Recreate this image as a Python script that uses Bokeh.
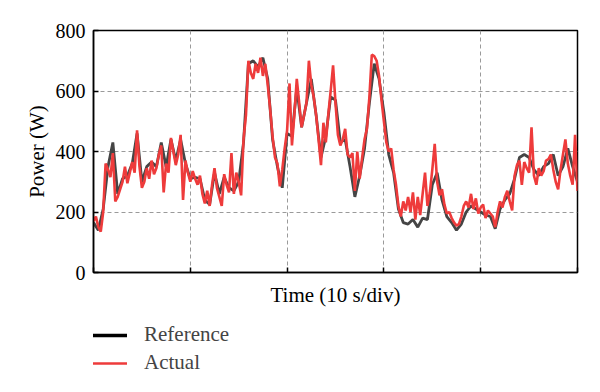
from bokeh.plotting import figure
from bokeh.models import Range1d, Legend, LegendItem, FixedTicker
from bokeh.layouts import column
from bokeh.embed import file_html
from bokeh.resources import INLINE

# Actual power, sampled every 0.25 s (0 .. 50 s)
actual_w = [
    170, 185, 150, 135, 200, 360, 340, 315, 395, 235, 250, 275, 300, 350, 295, 330,
    365, 330, 470, 350, 280, 300, 345, 310, 370, 325, 345, 390, 420, 265, 360, 330,
    445, 400, 355, 390, 455, 240, 370, 330, 300, 335, 310, 290, 320, 260, 228, 270,
    220, 290, 345, 280, 250, 220, 325, 290, 265, 395, 260, 330, 300, 255, 440, 520,
    700, 660, 640, 690, 660, 710, 650, 690, 620, 540, 450, 380, 360, 285, 340, 410,
    470, 625, 420, 520, 640, 560, 480, 520, 560, 700, 620, 580, 520, 440, 355, 495,
    430, 520, 600, 685, 560, 455, 420, 440, 475, 390, 380, 395, 270, 400, 310, 380,
    440, 475, 580, 720, 715, 700, 650, 570, 500, 430, 400, 410, 340, 290, 220, 185,
    235, 205, 250, 200, 265, 175, 250, 190, 260, 330, 220, 265, 340, 425, 300, 255,
    275, 225, 195, 200, 180, 165, 155, 160, 185, 220, 235, 215, 260, 210, 245, 195,
    215, 225, 180, 205, 195, 185, 150, 200, 235, 215, 250, 270, 235, 205, 320, 355,
    370, 290, 365, 345, 330, 480, 320, 290, 345, 320, 335, 370, 375, 390, 340, 300,
    275, 340, 390, 440, 360, 320, 290, 455, 270,
]
actual_t = [i * 0.25 for i in range(len(actual_w))]

# Reference power, sampled every 0.5 s (0 .. 50 s)
reference_w = [
    165, 140, 210, 350, 430, 260, 310, 320, 360, 460, 300, 350, 365, 350, 430, 350,
    440, 370, 440, 360, 310, 315, 310, 240, 225, 330, 260, 315, 280, 270, 300, 430,
    690, 700, 680, 710, 640, 440, 350, 280, 460, 450, 610, 480, 560, 640, 520, 380,
    450, 580, 570, 430, 440, 350, 250, 320, 410, 560, 690, 640, 530, 390, 330, 210,
    165, 160, 175, 150, 180, 175, 290, 330, 240, 185, 165, 140, 160, 200, 220, 210,
    200, 190, 185, 145, 210, 240, 260, 310, 380, 390, 380, 340, 320, 350, 360, 390,
    320, 350, 410, 350, 300,
]
reference_t = [i * 0.5 for i in range(len(reference_w))]

y_ticks = [0, 200, 400, 600, 800]
x_ticks = [0, 10, 20, 30, 40, 50]
series_names = ["Reference", "Actual"]

FONT = "Liberation Serif"
REF_COLOR = "#454545"
ACT_COLOR = "#EE3B3B"

p = figure(width=600, height=314, output_backend="svg", toolbar_location=None,
           x_range=Range1d(0, 50), y_range=Range1d(0, 800),
           min_border_left=93, min_border_right=23, min_border_top=30,
           min_border_bottom=42)

p.outline_line_color = "black"
p.outline_line_width = 1.5
p.background_fill_color = "white"
p.border_fill_color = "white"

p.line(reference_t, reference_w, line_color=REF_COLOR, line_width=2.8)
p.line(actual_t, actual_w, line_color=ACT_COLOR, line_width=2.6)

for ax in (p.xaxis[0], p.yaxis[0]):
    ax.axis_line_color = "black"
    ax.axis_line_width = 1.5
    ax.major_tick_in = 5
    ax.major_tick_out = 0
    ax.minor_tick_in = 0
    ax.minor_tick_out = 0
    ax.major_tick_line_color = "black"
    ax.major_tick_line_width = 1.5
    ax.axis_label_text_font = FONT
    ax.axis_label_text_font_style = "normal"
    ax.axis_label_text_font_size = "21px"
    ax.axis_label_text_color = "black"
    ax.major_label_text_font = FONT
    ax.major_label_text_font_size = "20px"
    ax.major_label_text_color = "black"

p.xaxis.ticker = FixedTicker(ticks=x_ticks)
p.yaxis.ticker = FixedTicker(ticks=y_ticks)
p.xaxis.major_label_text_font_size = "0px"
p.xaxis.axis_label = "Time (10 s/div)"
p.yaxis.axis_label = "Power (W)"
p.xaxis.axis_label_standoff = 10
p.yaxis.axis_label_standoff = 4
p.yaxis.major_label_standoff = 8

for g in (p.xgrid[0], p.ygrid[0]):
    g.grid_line_color = "#9a9a9a"
    g.grid_line_dash = "4 3"
    g.grid_line_width = 1

# Legend panel below the chart (series drawn out of view, only the legend shows)
lg = figure(width=600, height=78, output_backend="svg", toolbar_location=None,
            x_range=Range1d(100, 101), y_range=Range1d(0, 1),
            min_border_left=0, min_border_right=0, min_border_top=0,
            min_border_bottom=0)
lg.axis.visible = False
lg.grid.visible = False
lg.outline_line_color = None
lg_ref = lg.line(reference_t, reference_w, line_color="black", line_width=3.5)
lg_act = lg.line(actual_t, actual_w, line_color=ACT_COLOR, line_width=2.5)

legend = Legend(items=[LegendItem(label=series_names[0], renderers=[lg_ref]),
                       LegendItem(label=series_names[1], renderers=[lg_act])],
                orientation="vertical", location=(-4, 17),
                label_text_font=FONT, label_text_font_size="21px",
                glyph_width=38, glyph_height=20, label_standoff=17,
                spacing=3, padding=4, margin=0,
                border_line_color=None, background_fill_alpha=0)
lg.add_layout(legend)

layout = column(p, lg, spacing=0)
open("out.html", "w").write(file_html(layout, INLINE))
